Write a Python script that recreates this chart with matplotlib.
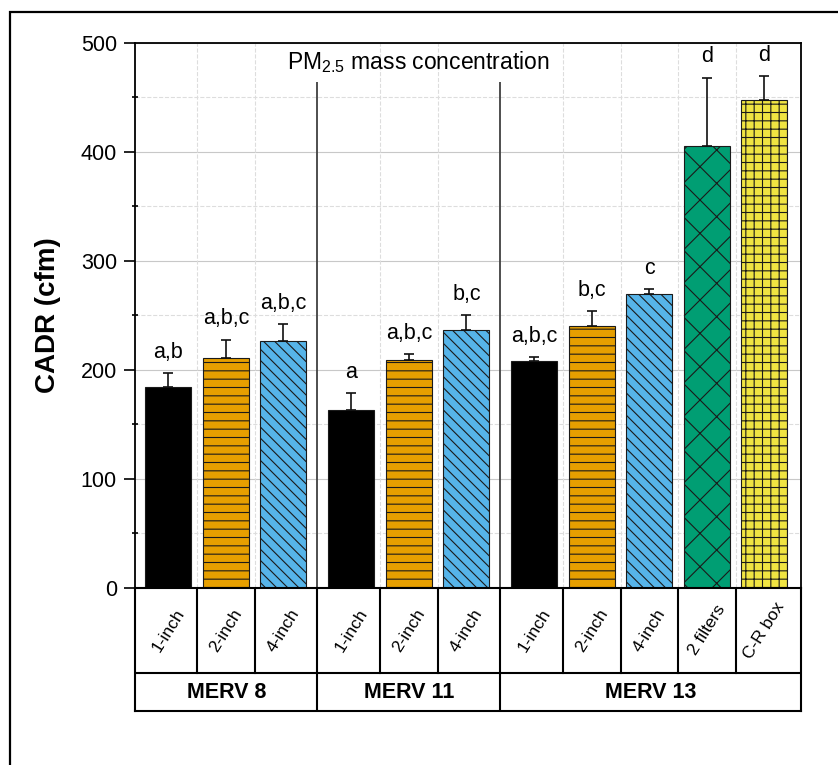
import numpy as np
import matplotlib
matplotlib.use('Agg')
import matplotlib.pyplot as plt
from matplotlib.patches import Rectangle

plt.rcParams['font.family'] = ['Liberation Sans', 'DejaVu Sans']
plt.rcParams['mathtext.fontset'] = 'custom'
plt.rcParams['mathtext.rm'] = 'Liberation Sans'
plt.rcParams['mathtext.default'] = 'regular'
plt.rcParams['hatch.linewidth'] = 0.8

# data
groups = ['MERV 8', 'MERV 11', 'MERV 13']
group_sizes = [3, 3, 5]
filters = ['1-inch', '2-inch', '4-inch',
           '1-inch', '2-inch', '4-inch',
           '1-inch', '2-inch', '4-inch', '2 filters', 'C-R box']
cadr = [184, 211, 226,
        163, 209, 236,
        207.6, 240.4, 269.4, 405, 447]
cadr_err = [13, 16.5, 16,
            15.5, 5, 14,
            3.7, 13, 4.6, 63, 22]
letters = ['a,b', 'a,b,c', 'a,b,c',
           'a', 'a,b,c', 'b,c',
           'a,b,c', 'b,c', 'c', 'd', 'd']

# styles per filter type
style = {
    '1-inch': ('#000000', ''),
    '2-inch': ('#E69F00', '--'),
    '4-inch': ('#56B4E9', '\\\\\\'),
    '2 filters': ('#009E73', 'x'),
    'C-R box': ('#F0E442', '++'),
}

# x positions: unit spacing inside a group, a small extra gap between groups
gap = 0.18
xpos = []
for g, n in enumerate(group_sizes):
    start = sum(group_sizes[:g])
    xpos += [start + i + g * gap for i in range(n)]
xpos = np.array(xpos)
xmin, xmax = -0.58, xpos[-1] + 0.635

fig = plt.figure(figsize=(8.38, 7.65), dpi=100)
ax = fig.add_axes([135 / 838, 1 - 587.5 / 765, 666 / 838, 544.8 / 765])

for x, v, name in zip(xpos, cadr, filters):
    col, hatch = style[name]
    ax.bar(x, v, width=0.8, color=col, edgecolor='#1a1a1a', hatch=hatch,
           linewidth=0.8, zorder=3)

ax.errorbar(xpos, cadr, yerr=[np.zeros(len(cadr)), cadr_err], fmt='none',
            ecolor='#111111', elinewidth=1.2, capsize=3.8, capthick=1.2, zorder=4)

for x, v, e, lab in zip(xpos, cadr, cadr_err, letters):
    ax.annotate(lab, (x, v + e), xytext=(0, 11), textcoords='offset points',
                ha='center', va='baseline', fontsize=15.5)

ax.set_xlim(xmin, xmax)
ax.set_ylim(0, 500)
ax.set_yticks(np.arange(0, 501, 100))
ax.set_yticks(np.arange(50, 500, 100), minor=True)
ax.set_xticks([])
ax.tick_params(axis='y', which='major', direction='out', length=8, width=1.2,
               labelsize=15.5, pad=5)
ax.tick_params(axis='y', which='minor', direction='inout', length=4, width=1.2)
for s in ax.spines.values():
    s.set_linewidth(1.3)

ax.set_axisbelow(True)
ax.yaxis.grid(True, which='major', color='#c8c8c8', linewidth=0.8)
ax.yaxis.grid(True, which='minor', color='#dddddd', linewidth=0.8, linestyle='--')

# boundaries between categories
bounds = (xpos[:-1] + xpos[1:]) / 2
edges = np.cumsum(group_sizes)[:-1]
for i, b in enumerate(bounds):
    if i + 1 in edges:
        ax.vlines(b, 0, 464, color='#404040', linewidth=1.3, zorder=2)
    else:
        ax.axvline(b, color='#dddddd', linewidth=0.8, linestyle='--', zorder=1)

ax.text(0.426, 0.951, r'PM$_{2.5}$ mass concentration', transform=ax.transAxes,
        ha='center', va='baseline', fontsize=16.5)
ax.set_ylabel('CADR (cfm)', fontsize=20, fontweight='bold', labelpad=14)

# table below the plot
tab = fig.add_axes([135 / 838, 1 - 711 / 765, 666 / 838, 123.5 / 765])
tab.set_xlim(xmin, xmax)
tab.set_ylim(0, 1)
tab.set_xticks([])
tab.set_yticks([])
for s in tab.spines.values():
    s.set_linewidth(1.5)
row = 38 / 123.5
tab.axhline(row, color='black', linewidth=1.5)
for i, b in enumerate(bounds):
    if i + 1 in edges:
        tab.axvline(b, color='black', linewidth=1.5)
    else:
        tab.axvline(b, ymin=row, ymax=1, color='black', linewidth=1.5)

for x, name in zip(xpos, filters):
    tab.text(x, (1 + row) / 2, name, rotation=58, ha='center', va='center',
             fontsize=12.5, rotation_mode='anchor')

cells = np.concatenate([[xmin], bounds[edges - 1], [xmax]])
for g, name in enumerate(groups):
    tab.text((cells[g] + cells[g + 1]) / 2, row / 2, name, ha='center',
             va='center', fontsize=15.5, fontweight='bold')

# outer frame
fig.patches.append(Rectangle((10 / 838, -0.1), 1.2, 1 - 12 / 765 + 0.1,
                             transform=fig.transFigure, fill=False,
                             edgecolor='black', linewidth=1.6))

fig.savefig('out.png', dpi=100)
